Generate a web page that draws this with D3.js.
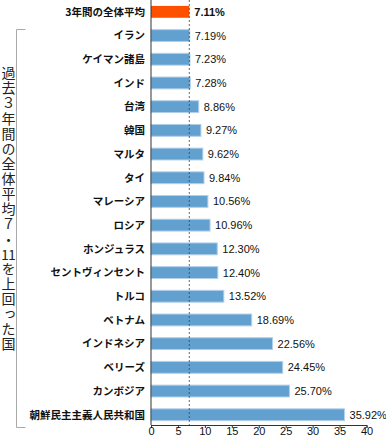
<!DOCTYPE html>
<html><head><meta charset="utf-8">
<script src="https://cdn.jsdelivr.net/npm/d3@7/dist/d3.min.js"></script>
<style>
html,body{margin:0;padding:0;background:#fff;}
#wrap{position:relative;width:386px;height:438px;}
svg{display:block;position:absolute;left:0;top:0;}
.side{position:absolute;left:1.5px;top:65.5px;writing-mode:vertical-rl;font-family:'Noto Sans CJK JP','Noto Sans',sans-serif;font-size:14px;line-height:14px;letter-spacing:1.1px;color:#222;white-space:nowrap;}
.tcy{text-combine-upright:all;}
</style></head>
<body>
<div id="wrap"></div>
<script>
const categories = ["3年間の全体平均","イラン","ケイマン諸島","インド","台湾","韓国","マルタ","タイ","マレーシア","ロシア","ホンジュラス","セントヴィンセント","トルコ","ベトナム","インドネシア","ベリーズ","カンボジア","朝鮮民主主義人民共和国"];
const values = [7.11,7.19,7.23,7.28,8.86,9.27,9.62,9.84,10.56,10.96,12.30,12.40,13.52,18.69,22.56,24.45,25.70,35.92];
const tickValues = [0,5,10,15,20,25,30,35,40];
const averageValue = 7.11;
const sideNote = ["過","去","３","年","間","の","全","体","平","均","７","・","11","を","上","回","っ","た","国"];

const W = 386, H = 438;
const wrap = d3.select("#wrap");
const svg = wrap.append("svg").attr("width", W).attr("height", H);

const x = d3.scaleLinear().domain([0, 40]).range([151, 366.5]);
const y = d3.scaleBand().domain(categories).range([0, 426.6]).paddingInner(0.5).paddingOuter(0.25);
const axisY = 425;

const jp = "'Noto Sans CJK JP', 'Noto Sans', sans-serif";
const lat = "'Liberation Sans', Arial, sans-serif";

// bars
svg.append("g").selectAll("rect").data(categories).join("rect")
  .attr("x", x(0))
  .attr("y", d => y(d))
  .attr("width", (d, i) => x(values[i]) - x(0))
  .attr("height", y.bandwidth())
  .attr("fill", (d, i) => i === 0 ? "#ff5000" : "#62a0d0")
  .attr("stroke", (d, i) => i === 0 ? "none" : "#b4d0ea")
  .attr("stroke-width", 1);

// dashed average line
svg.append("line")
  .attr("x1", x(averageValue)).attr("x2", x(averageValue))
  .attr("y1", 0).attr("y2", axisY)
  .attr("stroke", "#444").attr("stroke-width", 0.8)
  .attr("stroke-dasharray", "2,2");

// y axis line
svg.append("line")
  .attr("x1", x(0)).attr("x2", x(0))
  .attr("y1", 0).attr("y2", axisY)
  .attr("stroke", "#333").attr("stroke-width", 1);

// category labels
svg.append("g").selectAll("text").data(categories).join("text")
  .attr("x", 145)
  .attr("y", d => y(d) + y.bandwidth() / 2)
  .attr("dy", "0.36em")
  .attr("text-anchor", "end")
  .attr("font-family", jp)
  .attr("font-size", "10.5px")
  .attr("font-weight", 700)
  .attr("fill", "#111")
  .text(d => d);

// value labels
svg.append("g").selectAll("text").data(categories).join("text")
  .attr("x", (d, i) => x(values[i]) + 5)
  .attr("y", d => y(d) + y.bandwidth() / 2)
  .attr("dy", "0.36em")
  .attr("font-family", lat)
  .attr("font-size", "11px")
  .attr("font-weight", (d, i) => i === 0 ? 700 : 400)
  .attr("fill", "#111")
  .text((d, i) => d3.format(".2f")(values[i]) + "%");

// x axis
const xAxis = svg.append("g")
  .attr("transform", `translate(0,${axisY})`)
  .call(d3.axisBottom(x).tickValues(tickValues).tickSize(3).tickPadding(2).tickFormat(d3.format("d")));
xAxis.select(".domain").attr("stroke", "#333");
xAxis.selectAll(".tick line").attr("stroke", "#333");
xAxis.selectAll(".tick text")
  .attr("y", 0).attr("dy", null)
  .attr("transform", "translate(0,10.3)")
  .attr("font-family", lat).attr("font-size", "11px").attr("fill", "#111");

// bracket
svg.append("path")
  .attr("d", "M25.5,29.5 H16.5 V427.5 H25.5")
  .attr("fill", "none").attr("stroke", "#aaa").attr("stroke-width", 1);

// vertical side note (vertical writing, "11" set upright in one cell)
const side = wrap.append("div").attr("class", "side");
side.selectAll("span").data(sideNote).join("span")
  .attr("class", d => d === "11" ? "tcy" : null)
  .text(d => d);
</script>
</body></html>
